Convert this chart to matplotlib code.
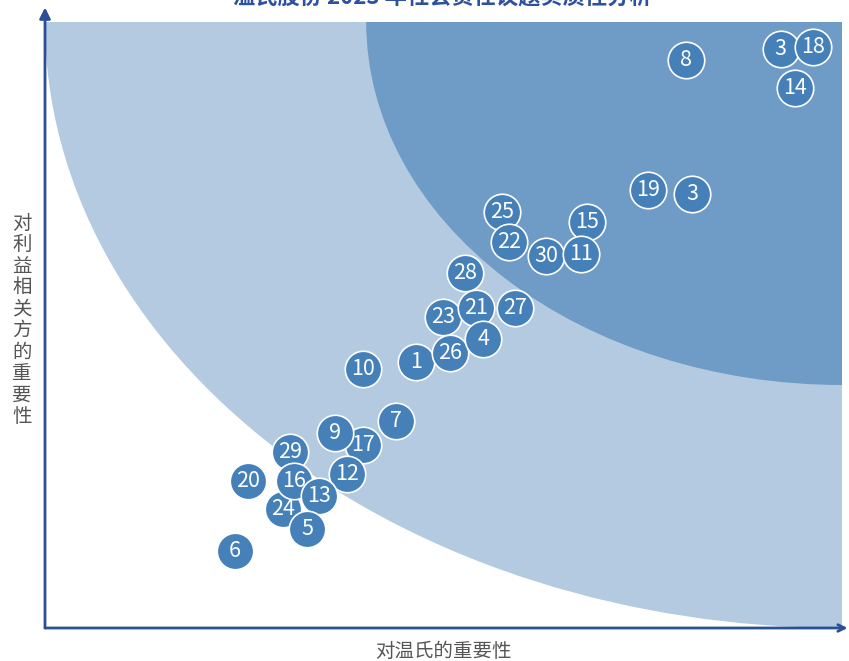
import matplotlib.pyplot as plt
from matplotlib.patches import Ellipse

plt.rcParams['font.family'] = ['Noto Sans CJK SC', 'DejaVu Sans']

# 议题编号及评分 (x: 对温氏的重要性, y: 对利益相关方的重要性)
labels = ['8', '3', '18', '14', '19', '3', '25', '15', '22', '30', '11',
          '28', '23', '21', '27', '1', '26', '4', '10', '7', '17', '9',
          '29', '12', '20', '24', '16', '13', '5', '6']
x_vals = [80.4, 92.3, 96.4, 94.1, 75.7, 81.2, 57.3, 68.0, 58.2, 62.9, 67.3,
          52.7, 49.9, 54.1, 59.0, 46.5, 50.8, 55.0, 39.9, 44.0, 39.9, 36.4,
          30.7, 37.9, 25.5, 29.9, 31.2, 34.4, 32.9, 23.8]
y_vals = [93.7, 95.5, 95.9, 89.1, 72.3, 71.6, 68.6, 67.0, 63.7, 61.4, 61.7,
          58.6, 51.3, 52.8, 52.8, 43.9, 45.4, 47.7, 42.7, 34.2, 30.2, 32.2,
          29.0, 25.4, 24.3, 19.6, 24.3, 21.8, 16.3, 12.7]

title = '温氏股份 2023 年社会责任议题实质性分析'
xlabel = '对温氏的重要性'
ylabel = '对利益相关方的重要性'

light = '#b3cae1'
dark = '#6f9cc7'
bubble = '#4580b8'
axis_col = '#2b4e96'

fig = plt.figure(figsize=(8.49, 6.61), dpi=100)
ax = fig.add_axes([45 / 849, 33 / 661, 797 / 849, 606 / 661])
ax.set_xlim(0, 100)
ax.set_ylim(0, 100)
ax.axis('off')

# 两层区域
ax.add_patch(Ellipse((100, 100), 200, 200, color=light, lw=0, zorder=1))
ax.add_patch(Ellipse((100, 100), 119.4, 119.8, color=dark, lw=0, zorder=2))

# 坐标轴箭头
ax.annotate('', xy=(0, 102.4), xytext=(0, 0),
            arrowprops=dict(arrowstyle='-|>', color=axis_col, lw=2,
                            mutation_scale=16, shrinkA=0, shrinkB=0),
            annotation_clip=False, zorder=5)
ax.annotate('', xy=(100.7, 0), xytext=(0, 0),
            arrowprops=dict(arrowstyle='->', color=axis_col, lw=2,
                            mutation_scale=12, shrinkA=0, shrinkB=0),
            annotation_clip=False, zorder=5)

# 气泡
for lab, xv, yv in zip(labels, x_vals, y_vals):
    ax.scatter(xv, yv, s=690, color=bubble, edgecolor='white',
               linewidth=1.2, zorder=10)
    ax.text(xv, yv, lab, ha='center', va='center', color='white',
            fontsize=15.5, zorder=11)

fig.text(442 / 849, 1.004, title, ha='center', va='center',
         fontsize=16, fontweight='bold', color='#2d50a0')
fig.text(443 / 849, 1 - 651 / 661, xlabel, ha='center', va='center',
         fontsize=14, color='#555555')
fig.text(22 / 849, 1 - 320 / 661, '\n'.join(ylabel), ha='center',
         va='center', fontsize=14, color='#555555', linespacing=1.03)

plt.savefig('out.png', dpi=100)
